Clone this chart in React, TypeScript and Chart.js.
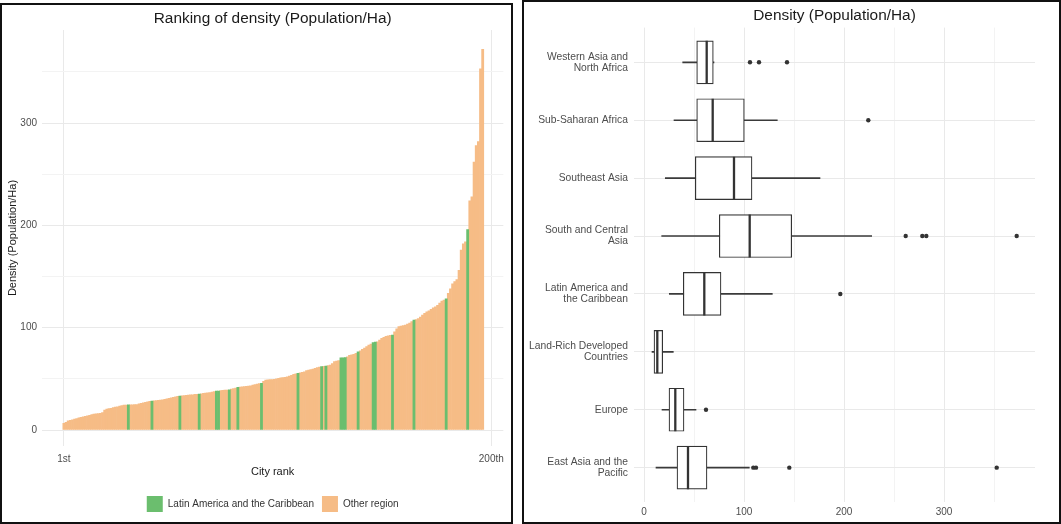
import React, { useEffect, useRef } from 'react';
import { Chart, registerables } from 'chart.js';

Chart.register(...registerables);

const FONT = "'Liberation Sans', Arial, Helvetica, sans-serif";
const GREEN = '#6BBE6E';
const ORANGE = '#F6BC86';
const INK = '#333333';
const TICK = '#4d4d4d';
const GRID_MAJOR = '#e9e9e9';
const GRID_MINOR = '#f3f3f3';

// ---------- Left panel: ranking of city densities ----------
const rankedDensity: number[] = [
  6.5, 7.5, 9, 9.5, 10, 10.7, 11.3, 12, 12.4, 13,
  13.5, 14, 14.3, 15, 15.6, 15.8, 16, 16.3, 17, 19.5,
  20.5, 21, 21.3, 22, 22.5, 22.8, 23.5, 24, 24.4, 24.5,
  24.6, 24.6, 24.7, 24.8, 25, 25.5, 26, 26.5, 27, 27.5,
  28, 28.3, 28.5, 28.8, 29, 29.3, 29.5, 30, 30.5, 31,
  31.5, 32, 32.5, 33, 33.2, 33.5, 33.8, 34, 34.2, 34.3,
  34.5, 34.8, 35, 35.2, 35.5, 35.8, 36, 36.3, 36.5, 37,
  37.5, 38, 38.1, 38.5, 38.8, 39, 39.1, 39.2, 40, 40.5,
  41, 41.7, 42, 42.3, 42.5, 42.8, 43, 43.3, 44, 44.5,
  45, 45.3, 45.6, 47.5, 48.9, 49, 49.2, 49.3, 49.5, 50,
  50.5, 51, 51.3, 51.5, 52, 52.8, 53.5, 54.4, 55, 55.5,
  56, 56.5, 57, 58, 58.5, 59, 59.5, 60.3, 61, 61.5,
  62, 62.3, 62.5, 63, 63.5, 65, 66.8, 67.5, 68, 70.5,
  70.6, 70.7, 71.5, 73, 73.5, 74, 74.9, 76.5, 77.5, 79,
  80, 81.5, 83, 84, 85.5, 86, 86.3, 88, 89.6, 90.5,
  91.5, 92, 92.5, 92.8, 96, 99, 101, 101.5, 102, 102.6,
  103.5, 104.5, 106, 107.5, 108, 109, 110.5, 112.4, 114, 115.5,
  116.6, 118, 119.5, 120.5, 122, 124, 126, 127, 128.3, 133.6,
  138, 143, 145, 147, 156, 176, 182, 184, 196, 224, 228, 262, 278, 282, 353, 372,
];
const latinAmericaRanks: number[] = [
  31, 42, 55, 64, 72, 73, 78, 82, 93, 110, 121, 123, 130, 131, 132, 138, 145, 146, 154, 164, 179, 189,
];
const rankTickValues = [1, 200];
const rankTickLabels = ['1st', '200th'];
const densityGridLeft = [0, 50, 100, 150, 200, 250, 300, 350];

// ---------- Right panel: density by region (box plots) ----------
const regionLabels: string[][] = [
  ['Western Asia and', 'North Africa'],
  ['Sub-Saharan Africa'],
  ['Southeast Asia'],
  ['South and Central', 'Asia'],
  ['Latin America and', 'the Caribbean'],
  ['Land-Rich Developed', 'Countries'],
  ['Europe'],
  ['East Asia and the', 'Pacific'],
];
const whiskerLow = [38.7, 30, 21.3, 17.7, 25.3, 8, 18, 12];
const quartile1 = [52.7, 52.7, 51.3, 75.3, 39.3, 10, 25, 33];
const medianValue = [62.7, 68.7, 90, 105.7, 60.3, 13.3, 31.3, 44];
const quartile3 = [69.3, 100.3, 108, 147.7, 77, 18.7, 40, 63];
const whiskerHigh = [70, 133.3, 176, 227.7, 128.3, 29.3, 52, 105.3];
const outlierRegion = [0, 0, 0, 1, 3, 3, 3, 3, 4, 6, 7, 7, 7, 7];
const outlierValue = [106, 115, 143, 224.3, 261.7, 278.3, 282.3, 372.7, 196.3, 62, 109.3, 112, 145.3, 352.7];
const densityGridRight = [0, 50, 100, 150, 200, 250, 300, 350];

function RankingChart() {
  const ref = useRef<HTMLCanvasElement>(null);
  useEffect(() => {
    const latinSet = new Set(latinAmericaRanks);
    const latin: { x: number; y: number }[] = [];
    const other: { x: number; y: number }[] = [];
    rankedDensity.forEach((v, i) => {
      const p = { x: i + 1, y: v };
      if (latinSet.has(i + 1)) latin.push(p);
      else other.push(p);
    });
    const chart = new Chart(ref.current as HTMLCanvasElement, {
      type: 'bar',
      data: {
        datasets: [
          {
            label: 'Latin America and the Caribbean',
            data: latin,
            backgroundColor: GREEN,
            borderWidth: 0,
            grouped: false,
            barPercentage: 1,
            categoryPercentage: 1,
          },
          {
            label: 'Other region',
            data: other,
            backgroundColor: ORANGE,
            borderWidth: 0,
            grouped: false,
            barPercentage: 1,
            categoryPercentage: 1,
          },
        ],
      } as any,
      options: {
        animation: false,
        responsive: false,
        events: [],
        layout: { autoPadding: false, padding: { left: 0, right: 6, top: 0, bottom: 0 } },
        plugins: {
          title: {
            display: true,
            fullSize: false,
            text: 'Ranking of density (Population/Ha)',
            color: '#1a1a1a',
            font: { family: FONT, size: 15.4, weight: 'normal' },
            padding: { top: 5, bottom: 1.5 },
          },
          legend: {
            position: 'bottom',
            fullSize: false,
            labels: {
              boxWidth: 16,
              boxHeight: 16,
              padding: 8,
              color: '#333',
              font: { family: FONT, size: 10 },
            },
          },
          tooltip: { enabled: false },
        },
        scales: {
          x: {
            type: 'linear',
            min: -9.2,
            max: 205.6,
            offset: false,
            border: { display: false },
            grid: { color: GRID_MAJOR, drawTicks: false, offset: false },
            afterBuildTicks: (s: any) => {
              s.ticks = rankTickValues.map((v) => ({ value: v }));
            },
            afterFit: (s: any) => {
              s.height = 42;
            },
            ticks: {
              autoSkip: false,
              maxRotation: 0,
              padding: 7,
              color: TICK,
              font: { family: FONT, size: 10 },
              callback: (v: any) => {
                const i = rankTickValues.indexOf(Number(v));
                return i >= 0 ? rankTickLabels[i] : '';
              },
            },
            title: {
              display: true,
              text: 'City rank',
              color: '#1a1a1a',
              font: { family: FONT, size: 11 },
              padding: { top: 2, bottom: 9.5 },
            },
          },
          y: {
            type: 'linear',
            min: -15.6,
            max: 391,
            border: { display: false },
            grid: {
              drawTicks: false,
              color: (ctx: any) => (ctx.tick && ctx.tick.value % 100 === 0 ? GRID_MAJOR : GRID_MINOR),
            },
            afterBuildTicks: (s: any) => {
              s.ticks = densityGridLeft.map((v) => ({ value: v }));
            },
            afterFit: (s: any) => {
              s.width = 40;
            },
            ticks: {
              padding: 5,
              color: TICK,
              font: { family: FONT, size: 10 },
              callback: (v: any) => (Number(v) % 100 === 0 ? String(v) : ''),
            },
            title: {
              display: true,
              text: 'Density (Population/Ha)',
              color: '#1a1a1a',
              font: { family: FONT, size: 11 },
              padding: { top: 4.4, bottom: 0 },
            },
          },
        },
      } as any,
    });
    return () => chart.destroy();
  }, []);
  return <canvas ref={ref} width={509} height={517} style={{ display: 'block', width: 509, height: 517 }} />;
}

function BoxplotChart() {
  const ref = useRef<HTMLCanvasElement>(null);
  useEffect(() => {
    const boxes = regionLabels.map((_, i) => ({ x: [quartile1[i], quartile3[i]], y: i }));
    const whiskers = regionLabels.map((_, i) => ({ x: [whiskerLow[i], whiskerHigh[i]], y: i }));
    const medians = regionLabels.map((_, i) => ({ x: medianValue[i], y: i }));
    const outliers = outlierValue.map((v, i) => ({ x: v, y: outlierRegion[i] }));
    const chart = new Chart(ref.current as HTMLCanvasElement, {
      type: 'bar',
      data: {
        datasets: [
          {
            type: 'scatter',
            label: 'median',
            data: medians,
            pointStyle: 'line',
            pointRotation: 90,
            pointRadius: 21.5,
            pointBorderWidth: 2.3,
            pointBorderColor: INK,
            borderColor: INK,
            order: 0,
          },
          {
            type: 'scatter',
            label: 'outliers',
            data: outliers,
            pointRadius: 2.2,
            pointBackgroundColor: INK,
            pointBorderColor: INK,
            pointBorderWidth: 0,
            order: 0,
          },
          {
            type: 'bar',
            label: 'box',
            data: boxes,
            backgroundColor: '#ffffff',
            borderColor: INK,
            borderWidth: 1.2,
            borderSkipped: false,
            barThickness: 43,
            grouped: false,
            order: 1,
          },
          {
            type: 'bar',
            label: 'whisker',
            data: whiskers,
            backgroundColor: '#3a3a3a',
            borderWidth: 0,
            barThickness: 1,
            grouped: false,
            order: 2,
          },
        ],
      } as any,
      options: {
        indexAxis: 'y',
        animation: false,
        responsive: false,
        events: [],
        layout: { autoPadding: false, padding: { left: 0, right: 24, top: 0, bottom: 0 } },
        plugins: {
          title: {
            display: true,
            fullSize: false,
            text: 'Density (Population/Ha)',
            color: '#1a1a1a',
            font: { family: FONT, size: 15.4, weight: 'normal' },
            padding: { top: 5, bottom: 2.1 },
          },
          legend: { display: false },
          tooltip: { enabled: false },
        },
        scales: {
          x: {
            type: 'linear',
            min: -10,
            max: 391,
            offset: false,
            border: { display: false },
            grid: {
              drawTicks: false,
              offset: false,
              color: (ctx: any) => (ctx.tick && ctx.tick.value % 100 === 0 ? GRID_MAJOR : GRID_MINOR),
            },
            afterBuildTicks: (s: any) => {
              s.ticks = densityGridRight.map((v) => ({ value: v }));
            },
            afterFit: (s: any) => {
              s.height = 19.6;
            },
            ticks: {
              autoSkip: false,
              maxRotation: 0,
              padding: 4,
              color: TICK,
              font: { family: FONT, size: 10 },
              callback: (v: any) => (Number(v) % 100 === 0 ? String(v) : ''),
            },
          },
          y: {
            type: 'linear',
            reverse: true,
            min: -0.6,
            max: 7.6,
            offset: false,
            border: { display: false },
            grid: { drawTicks: false, offset: false, color: GRID_MAJOR },
            afterBuildTicks: (s: any) => {
              s.ticks = regionLabels.map((_, i) => ({ value: i }));
            },
            afterFit: (s: any) => {
              s.width = 110;
            },
            ticks: {
              autoSkip: false,
              padding: 6,
              color: TICK,
              font: { family: FONT, size: 10.3, lineHeight: 1.07 },
              callback: (v: any) => regionLabels[Math.round(Number(v))] ?? '',
            },
          },
        },
      } as any,
    });
    return () => chart.destroy();
  }, []);
  return <canvas ref={ref} width={535} height={520} style={{ display: 'block', width: 535, height: 520 }} />;
}

export default function App() {
  return (
    <div style={{ position: 'absolute', left: 0, top: 0, width: 1061, height: 524, background: '#fff', overflow: 'hidden' }}>
      <div
        style={{
          position: 'absolute',
          left: 0,
          top: 3,
          width: 513,
          height: 521,
          border: '2px solid #111',
          boxSizing: 'border-box',
        }}
      >
        <RankingChart />
      </div>
      <div
        style={{
          position: 'absolute',
          left: 522,
          top: 0,
          width: 539,
          height: 524,
          border: '2px solid #111',
          boxSizing: 'border-box',
        }}
      >
        <BoxplotChart />
      </div>
    </div>
  );
}
